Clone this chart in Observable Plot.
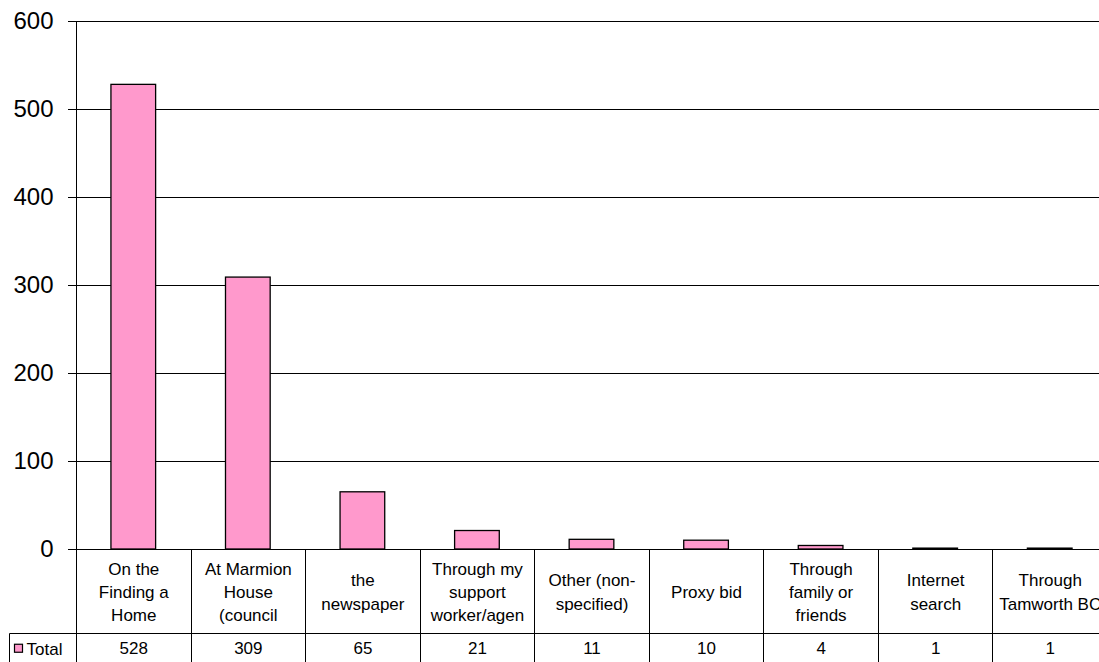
<!DOCTYPE html>
<html><head><meta charset="utf-8">
<script src="https://cdn.jsdelivr.net/npm/d3@7"></script>
<script src="https://cdn.jsdelivr.net/npm/@observablehq/plot@0.6"></script>
<style>html,body{margin:0;padding:0;background:#fff;overflow:hidden}</style>
</head><body><div id="chart"></div>
<script>
const categories = [
  "On the\nFinding a\nHome",
  "At Marmion\nHouse\n(council",
  "the\nnewspaper",
  "Through my\nsupport\nworker/agen",
  "Other (non-\nspecified)",
  "Proxy bid",
  "Through\nfamily or\nfriends",
  "Internet\nsearch",
  "Through\nTamworth BC"
];
const totals = [528, 309, 65, 21, 11, 10, 4, 1, 1];
const yTicks = [0, 100, 200, 300, 400, 500, 600];
const seriesName = "Total";
const pink = "#FF99CC";

const data = categories.map((c, i) => ({category: c, total: totals[i]}));
const font = "'Liberation Sans', Arial, sans-serif";

const tableGrid = (index, scales, values, dims) => {
  const {x, y} = scales;
  const step = x.step(), bw = x.bandwidth();
  const g = d3.create("svg:g");
  const top0 = y(0) + 0.5;
  const rowY = Math.round(y(0) + 84) + 0.5;
  const bottom = dims.height;
  const left = dims.marginLeft;
  const legendLeft = left - 66.5;
  const bounds = categories.map(c => x(c) + bw / 2 - step / 2);
  bounds.push(x(categories[categories.length - 1]) + bw / 2 + step / 2);
  g.append("line").attr("x1", Math.round(bounds[0]) + 0.5).attr("x2", Math.round(bounds[0]) + 0.5)
    .attr("y1", y(600) + 0.5).attr("y2", bottom).attr("stroke", "#000");
  for (const b of bounds.slice(1)) {
    const xx = Math.round(b) + 0.5;
    g.append("line").attr("x1", xx).attr("x2", xx).attr("y1", top0).attr("y2", bottom).attr("stroke", "#000");
  }
  g.append("line").attr("x1", legendLeft).attr("x2", dims.width).attr("y1", rowY).attr("y2", rowY).attr("stroke", "#000");
  g.append("line").attr("x1", legendLeft).attr("x2", legendLeft).attr("y1", rowY).attr("y2", bottom).attr("stroke", "#000");
  const rowMid = (rowY + bottom) / 2 + 1;
  g.append("rect").attr("x", legendLeft + 5).attr("y", rowMid - 4.5).attr("width", 8).attr("height", 8)
    .attr("fill", pink).attr("stroke", "#000").attr("stroke-width", 1.2);
  g.append("text").attr("x", legendLeft + 17).attr("y", rowMid).attr("dy", "0.35em")
    .attr("text-anchor", "start")
    .attr("font-size", 17).attr("font-family", font).attr("fill", "#000").text(seriesName);
  return g.node();
};

const chart = Plot.plot({
  width: 1099,
  height: 662,
  marginLeft: 76,
  marginRight: 0,
  marginTop: 21,
  marginBottom: 113,
  style: {fontFamily: font, background: "#fff", color: "#000"},
  x: {domain: categories, range: [76, 1107], round: false, paddingInner: 0.61, paddingOuter: 0.305, axis: null},
  y: {domain: [0, 600], range: [549, 21], axis: null},
  marks: [
    Plot.ruleY(yTicks, {stroke: "#000", strokeWidth: 1}),
    Plot.axisY({ticks: yTicks, tickSize: 8, tickPadding: 15, fontSize: 24, stroke: "#000", fill: "#000", label: null}),
    Plot.barY(data, {x: "category", y: "total", fill: pink, stroke: "#000", strokeWidth: 1.3}),
    Plot.text(data, {x: "category", frameAnchor: "bottom", dy: 41, text: "category", lineAnchor: "middle", lineHeight: 1.38, fontSize: 17, fill: "#000"}),
    Plot.text(data, {x: "category", frameAnchor: "bottom", dy: 99, text: d => String(d.total), lineAnchor: "middle", fontSize: 17, fill: "#000"}),
    tableGrid
  ]
});
document.getElementById("chart").appendChild(chart);
</script>
</body></html>
